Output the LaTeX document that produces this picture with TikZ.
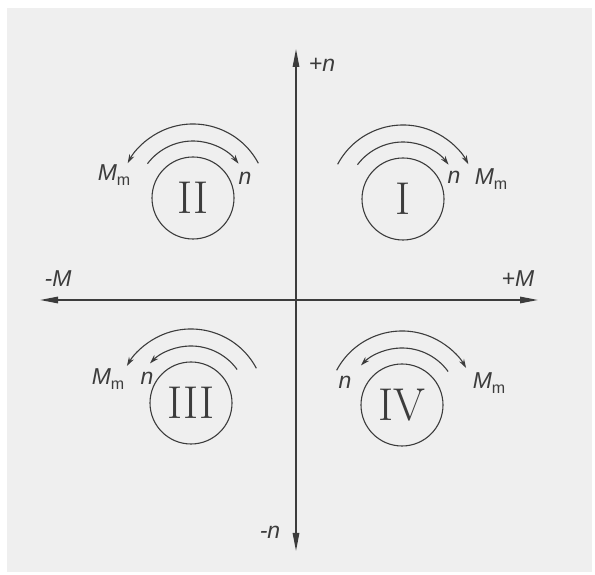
\documentclass[tikz,border=0pt]{standalone}
\usepackage{fontspec}
\newfontfamily\lab{Liberation Sans}
\usetikzlibrary{arrows.meta,calc}
\definecolor{ink}{HTML}{3C3C3C}
\definecolor{paper}{HTML}{EFEFEF}
\tikzset{
  axis/.style={draw=ink, line width=1.4pt, -{Stealth[length=18pt,width=6.5pt,inset=0pt]}},
  rot/.style={draw=ink, line width=1.1pt, -{Stealth[length=9pt,width=5.5pt]}},
  quad/.style={circle, draw=ink, line width=1.1pt, minimum size=82pt, inner sep=0pt,
    text=ink, font=\fontsize{46}{46}\selectfont},
  lbl/.style={text=ink, inner sep=0pt, font=\lab\itshape\fontsize{23}{23}\selectfont},
}
\newcommand{\Mm}{M\textup{\raisebox{-0.35ex}{\fontsize{16}{16}\selectfont m}}}
\begin{document}
\begin{tikzpicture}[x=1pt,y=1pt]
\useasboundingbox (0,0) rectangle (595,575);
\fill[white] (0,0) rectangle (595,575);
\fill[paper] (7,3) rectangle (592,567);
% axes
\coordinate (xl) at (40,275);
\coordinate (xr) at (538,275);
\coordinate (yb) at (296,24);
\coordinate (yt) at (296,526);
\coordinate (o) at (296,275);
\draw[axis] (o) -- (xr);
\draw[axis] (o) -- (xl);
\draw[axis] (o) -- (yt);
\draw[axis] (o) -- (yb);
\node[lbl] (pn) at (322,510) {+n};
\node[lbl] (mn) at (270,43) {-n};
\node[lbl] (mM) at (58,296) {-M};
\node[lbl] (pM) at (518,296) {+M};
% quadrants
\node[quad] (I) at (403,376) {I};
\node[quad] (II) at (193,377) {II};
\node[quad] (III) at (191,172) {III};
\node[quad] (IV) at (402,170) {IV};
% I
\draw[rot] ($(I)+(143:57)$) arc[start angle=143, end angle=37, radius=57];
\draw[rot] ($(I)+(152:74)$) arc[start angle=152, end angle=28, radius=74];
\node[lbl] (In) at (454,398) {n};
\node[lbl] (IM) at (491,396) {\Mm};
% II
\draw[rot] ($(II)+(143:57)$) arc[start angle=143, end angle=37, radius=57];
\draw[rot] ($(II)+(28:74)$) arc[start angle=28, end angle=152, radius=74];
\node[lbl] (IIM) at (114,400) {\Mm};
\node[lbl] (IIn) at (245,397) {n};
% III
\draw[rot] ($(III)+(36:57)$) arc[start angle=36, end angle=136, radius=57];
\draw[rot] ($(III)+(28:74)$) arc[start angle=28, end angle=150, radius=74];
\node[lbl] (IIIM) at (108,196) {\Mm};
\node[lbl] (IIIn) at (147,197) {n};
% IV
\draw[rot] ($(IV)+(36:57)$) arc[start angle=36, end angle=136, radius=57];
\draw[rot] ($(IV)+(152:74)$) arc[start angle=152, end angle=30, radius=74];
\node[lbl] (IVn) at (345,193) {n};
\node[lbl] (IVM) at (489,192) {\Mm};
\end{tikzpicture}
\end{document}
